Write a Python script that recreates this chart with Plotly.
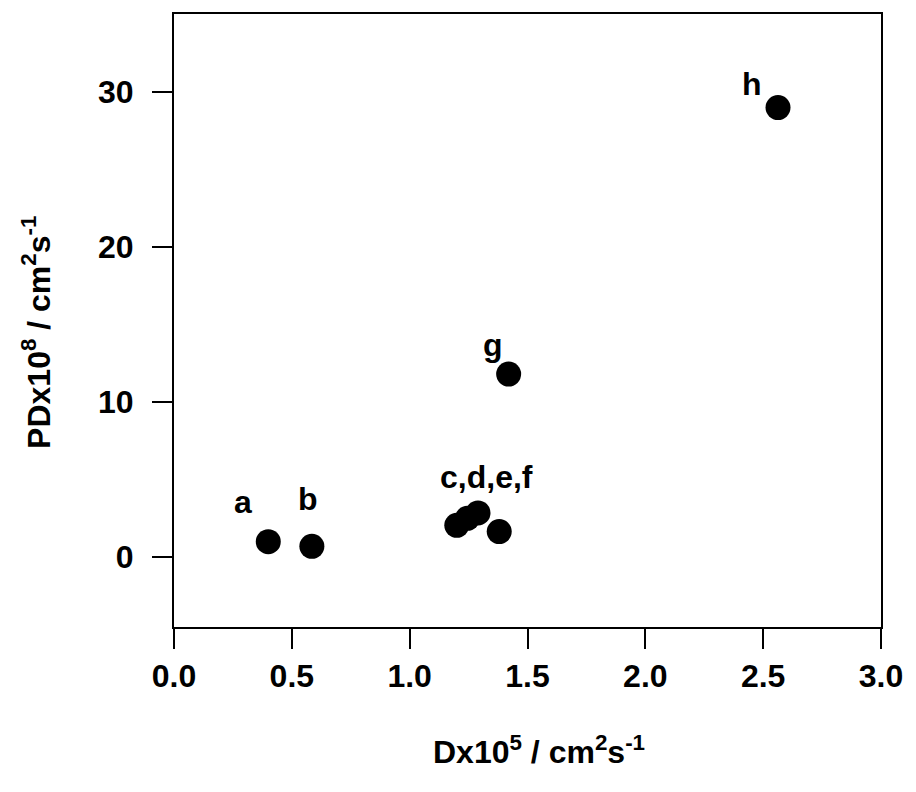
import plotly.graph_objects as go

# Data
labels = ["a", "b", "c", "d", "e", "f", "g", "h"]
dx = [0.40, 0.585, 1.20, 1.245, 1.29, 1.38, 1.42, 2.563]
pd_vals = [1.0, 0.7, 2.05, 2.5, 2.85, 1.65, 11.8, 28.97]

label_text = ["a", "b", "c,d,e,f", "g", "h"]
label_x = [0.293, 0.569, 1.324, 1.353, 2.453]
label_y = [3.55, 3.75, 5.15, 13.7, 30.5]

x_ticks = [0.0, 0.5, 1.0, 1.5, 2.0, 2.5, 3.0]
y_ticks = [0, 10, 20, 30]

x_title = "Dx10<sup>5</sup> / cm<sup>2</sup>s<sup>-1</sup>"
y_title = "PDx10<sup>8</sup> / cm<sup>2</sup>s<sup>-1</sup>"

FONT = "Arial, Liberation Sans, sans-serif"
FS = 32
FW = 600

fig = go.Figure()
fig.add_trace(go.Scatter(
    x=dx, y=pd_vals, mode="markers",
    marker=dict(size=25, color="black", line=dict(width=0)),
    showlegend=False, hoverinfo="skip",
))

for t, x, y in zip(label_text, label_x, label_y):
    fig.add_annotation(x=x, y=y, text=t, showarrow=False,
                       font=dict(family=FONT, size=FS, color="black", weight=FW),
                       xanchor="center", yanchor="middle")

# axis titles as annotations for precise placement
fig.add_annotation(xref="paper", yref="paper", x=0.516, y=-0.2,
                   text=x_title, showarrow=False,
                   font=dict(family=FONT, size=FS, color="black", weight=FW),
                   xanchor="center", yanchor="middle")
fig.add_annotation(xref="paper", yref="paper", x=-0.195, y=0.48,
                   text=y_title, showarrow=False, textangle=-90,
                   font=dict(family=FONT, size=FS, color="black", weight=FW),
                   xanchor="center", yanchor="middle")

fig.update_layout(
    width=916, height=792,
    margin=dict(l=174, r=35, t=14, b=165),
    paper_bgcolor="white", plot_bgcolor="white",
    font=dict(family=FONT, size=FS, color="black"),
)
fig.update_xaxes(
    range=[0, 3.0], tickvals=x_ticks, ticktext=[f"{v:.1f}" for v in x_ticks],
    ticks="outside", ticklen=20, tickwidth=2, tickcolor="black",
    showline=True, linecolor="black", linewidth=2, mirror=True,
    showgrid=False, zeroline=False,
    tickfont=dict(family=FONT, size=FS, weight=FW),
)
fig.update_yaxes(
    range=[-4.5, 35], tickvals=y_ticks, ticktext=[str(v) for v in y_ticks],
    ticks="outside", ticklen=20, tickwidth=2, tickcolor="black",
    showline=True, linecolor="black", linewidth=2, mirror=True,
    showgrid=False, zeroline=False,
    tickfont=dict(family=FONT, size=FS, weight=FW),
    ticklabelstandoff=12,
)

fig.write_html("out.html")
